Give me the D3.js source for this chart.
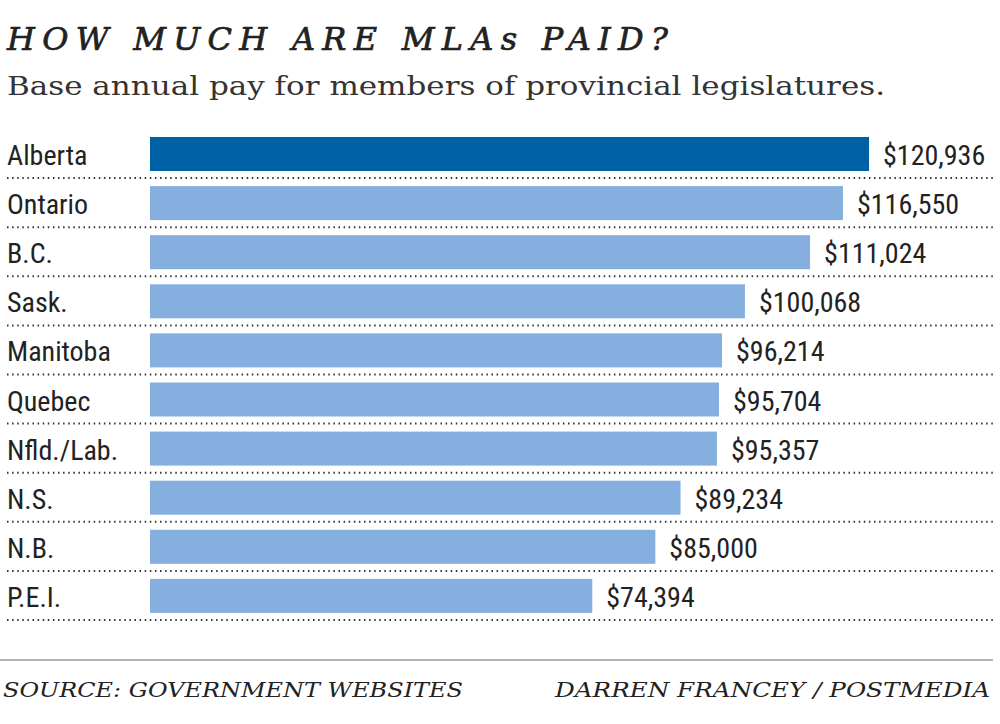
<!DOCTYPE html>
<html><head><meta charset="utf-8">
<script src="https://cdn.jsdelivr.net/npm/d3@7"></script>
<style>body{margin:0;background:#fff}svg{display:block}</style>
</head><body>
<script>
const provinces = ["Alberta","Ontario","B.C.","Sask.","Manitoba","Quebec","Nfld./Lab.","N.S.","N.B.","P.E.I."];
const pay = [120936,116550,111024,100068,96214,95704,95357,89234,85000,74394];
const highlight = ["Alberta"];
const title = "HOW MUCH ARE MLAs PAID?";
const subtitle = "Base annual pay for members of provincial legislatures.";
const source = "SOURCE: GOVERNMENT WEBSITES";
const credit = "DARREN FRANCEY / POSTMEDIA";

const W = 1000, H = 724;
const svg = d3.select("body").append("svg").attr("width", W).attr("height", H);

const x = d3.scaleLinear().domain([0, 120936]).range([150, 869]);
const y = d3.scaleBand().domain(provinces).range([129, 620]).paddingInner(0).paddingOuter(0);
const condensed = "'Liberation Sans Narrow','Roboto Condensed','Arial Narrow',sans-serif";
const slab = "'DejaVu Serif',serif";

svg.append("text").attr("x", 7).attr("y", 50).text(title)
  .attr("font-family", slab).attr("font-style", "italic").attr("font-size", 32)
  .attr("fill", "#222").attr("stroke", "#222").attr("stroke-width", 0.7)
  .attr("textLength", 661).attr("lengthAdjust", "spacing");
svg.append("text").attr("x", 7).attr("y", 95).text(subtitle)
  .attr("font-family", slab).attr("font-size", 26).attr("fill", "#333")
  .attr("textLength", 878).attr("lengthAdjust", "spacingAndGlyphs");

const rows = svg.append("g").selectAll("g").data(provinces).join("g");
rows.append("rect")
  .attr("x", x(0)).attr("y", d => y(d) + 8)
  .attr("width", (d, i) => x(pay[i]) - x(0)).attr("height", 34)
  .attr("fill", d => highlight.includes(d) ? "#0060a6" : "#84afdf");
rows.append("line")
  .attr("x1", 7).attr("x2", 996).attr("y1", d => y(d) + y.bandwidth()).attr("y2", d => y(d) + y.bandwidth())
  .attr("stroke", "#333").attr("stroke-width", 2).attr("stroke-dasharray", "1.5,3.6");
rows.append("text").attr("x", 7).attr("y", d => y(d) + 36).text(d => d)
  .attr("font-family", condensed).attr("font-size", 28).attr("fill", "#222");
rows.append("text").attr("x", (d, i) => x(pay[i]) + 14).attr("y", d => y(d) + 36)
  .text((d, i) => "$" + d3.format(",")(pay[i]))
  .attr("font-family", condensed).attr("font-size", 28).attr("fill", "#222");

svg.append("line").attr("x1", 0).attr("x2", 993).attr("y1", 660).attr("y2", 660)
  .attr("stroke", "#999").attr("stroke-width", 1.5);
svg.append("text").attr("x", 3).attr("y", 697).text(source)
  .attr("font-family", slab).attr("font-style", "italic").attr("font-size", 20)
  .attr("fill", "#222").attr("textLength", 460).attr("lengthAdjust", "spacingAndGlyphs");
svg.append("text").attr("x", 990).attr("y", 697).attr("text-anchor", "end").text(credit)
  .attr("font-family", slab).attr("font-style", "italic").attr("font-size", 20)
  .attr("fill", "#222").attr("textLength", 435).attr("lengthAdjust", "spacingAndGlyphs");
</script>
</body></html>
